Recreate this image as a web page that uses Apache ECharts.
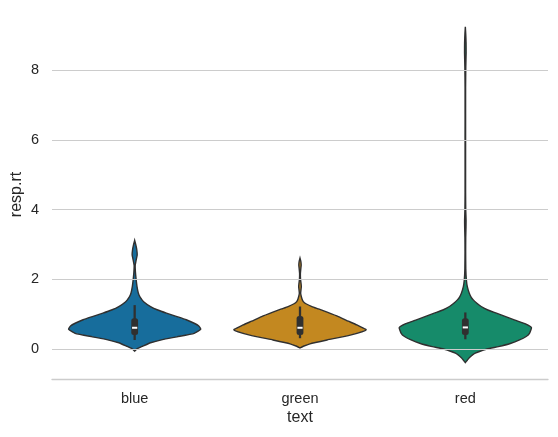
<!DOCTYPE html>
<html>
<head>
<meta charset="utf-8">
<script src="https://cdn.jsdelivr.net/npm/echarts@6/dist/echarts.min.js"></script>
<style>
  html, body { margin: 0; padding: 0; background: #fff; }
  #chart { width: 558px; height: 437px; }
</style>
</head>
<body>
<div id="chart"></div>
<script>
// categories and colours
const categories = ['blue', 'green', 'red'];
const colors = ['#176d9c', '#c38820', '#168b6a'];
const yTicks = [0, 2, 4, 6, 8];

// violin outlines: resp.rt level and relative half width
const blueV = [-0.06, 0.0, 0.08, 0.18, 0.27, 0.35, 0.45, 0.57, 0.66, 0.74, 0.84, 0.93, 1.03, 1.12, 1.22, 1.35, 1.5, 1.61, 1.8, 2.0, 2.2, 2.4, 2.55, 2.7, 2.85, 3.0, 3.12];
const blueW = [0, 0.03, 0.12, 0.24, 0.42, 0.64, 0.9, 1.0, 0.97, 0.9, 0.78, 0.64, 0.48, 0.35, 0.24, 0.14, 0.08, 0.055, 0.035, 0.022, 0.012, 0.008, 0.022, 0.038, 0.032, 0.016, 0];

const greenV = [0.03, 0.08, 0.15, 0.26, 0.4, 0.55, 0.69, 0.8, 0.93, 1.05, 1.15, 1.22, 1.3, 1.36, 1.45, 1.6, 1.72, 1.79, 1.88, 2.0, 2.17, 2.3, 2.41, 2.52, 2.61];
const greenW = [0, 0.05, 0.15, 0.41, 0.76, 1.0, 0.86, 0.73, 0.58, 0.42, 0.28, 0.18, 0.09, 0.05, 0.028, 0.01, 0.016, 0.02, 0.016, 0.008, 0.006, 0.012, 0.018, 0.012, 0];

const redV = [-0.39, -0.32, -0.25, -0.12, 0.0, 0.07, 0.16, 0.26, 0.36, 0.45, 0.62, 0.73, 0.83, 0.93, 1.03, 1.12, 1.22, 1.32, 1.41, 1.5, 1.6, 1.79, 1.98, 2.3, 2.8, 3.2, 3.5, 3.7, 4.0, 4.5, 6.0, 7.5, 8.1, 8.5, 8.8, 9.05, 9.25];
const redW = [0, 0.03, 0.06, 0.15, 0.33, 0.5, 0.68, 0.82, 0.92, 0.97, 1.0, 0.9, 0.75, 0.61, 0.47, 0.34, 0.24, 0.17, 0.12, 0.085, 0.06, 0.03, 0.016, 0.007, 0.005, 0.006, 0.01, 0.011, 0.006, 0.004, 0.004, 0.004, 0.007, 0.012, 0.011, 0.006, 0];

// inner box: whisker low, q1, median, q3, whisker high
const whiskerLow = [0.26, 0.31, 0.28];
const q1 = [0.40, 0.40, 0.40];
const median = [0.61, 0.61, 0.62];
const q3 = [0.88, 0.95, 0.88];
const whiskerHigh = [1.26, 1.22, 1.05];

const profiles = [
  { v: blueV, w: blueW },
  { v: greenV, w: greenW },
  { v: redV, w: redW }
];

const lineColor = '#303030';
const textColor = '#262626';
const gridColor = '#cccccc';
const font = '"Liberation Sans", Arial, sans-serif';

function renderViolin(params, api) {
  const idx = api.value(0);
  const prof = profiles[idx];
  const band = api.size([1, 0])[0];
  const maxHalf = band * 0.4;
  const cx = api.coord([idx, 0])[0];
  const right = [];
  const left = [];
  for (let i = 0; i < prof.v.length; i++) {
    const py = api.coord([idx, prof.v[i]])[1];
    right.push([cx + prof.w[i] * maxHalf, py]);
    left.push([cx - prof.w[i] * maxHalf, py]);
  }
  const points = right.concat(left.reverse());
  const yWl = api.coord([idx, whiskerLow[idx]])[1];
  const yWh = api.coord([idx, whiskerHigh[idx]])[1];
  const yQ1 = api.coord([idx, q1[idx]])[1];
  const yQ3 = api.coord([idx, q3[idx]])[1];
  const yMed = api.coord([idx, median[idx]])[1];
  return {
    type: 'group',
    children: [
      {
        type: 'polygon',
        shape: { points: points, smooth: 0.15 },
        style: { fill: colors[idx], stroke: lineColor, lineWidth: 1.4 }
      },
      {
        type: 'line',
        shape: { x1: cx, y1: yWh, x2: cx, y2: yWl },
        style: { stroke: lineColor, lineWidth: 2.3 }
      },
      {
        type: 'rect',
        shape: { x: cx - 3.4, y: yQ3, width: 6.8, height: yQ1 - yQ3, r: 2.5 },
        style: { fill: lineColor }
      },
      {
        type: 'rect',
        shape: { x: cx - 2.6, y: yMed - 1, width: 5.2, height: 2 },
        style: { fill: '#ffffff' }
      }
    ]
  };
}

const chart = echarts.init(document.getElementById('chart'), null, { renderer: 'canvas' });
chart.setOption({
  animation: false,
  backgroundColor: '#ffffff',
  grid: { left: 52, right: 10, top: 10, bottom: 58, containLabel: false, outerBoundsMode: 'none' },
  xAxis: {
    type: 'category',
    data: categories,
    name: 'text',
    nameLocation: 'middle',
    nameGap: 31,
    nameMoveOverlap: false,
    nameTextStyle: { color: textColor, fontSize: 16, fontFamily: font },
    axisLine: { onZero: false, lineStyle: { color: gridColor, width: 1.3 } },
    axisTick: { show: false },
    axisLabel: { color: textColor, fontSize: 14.5, fontFamily: font, margin: 12 },
    splitLine: { show: false }
  },
  yAxis: {
    type: 'value',
    min: -0.86,
    max: 9.73,
    name: 'resp.rt',
    nameLocation: 'middle',
    nameGap: 27,
    nameMoveOverlap: false,
    nameTextStyle: { color: textColor, fontSize: 16, fontFamily: font },
    axisLine: { show: false },
    axisTick: { show: false, customValues: yTicks },
    axisLabel: { color: textColor, fontSize: 14.5, fontFamily: font, margin: 13, customValues: yTicks },
    splitLine: { show: false }
  },
  series: [
    {
      type: 'line',
      data: [],
      z: 1,
      silent: true,
      markLine: {
        silent: true,
        symbol: ['none', 'none'],
        label: { show: false },
        lineStyle: { color: gridColor, width: 1.1, type: 'solid' },
        data: yTicks.map(t => ({ yAxis: t }))
      }
    },
    {
      type: 'custom',
      z: 2,
      renderItem: renderViolin,
      data: categories.map((c, i) => [i])
    }
  ]
});
</script>
</body>
</html>
